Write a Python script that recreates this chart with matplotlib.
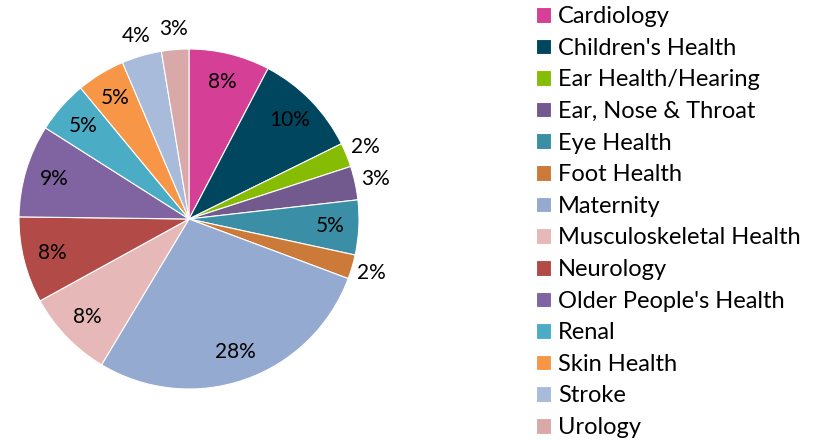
import matplotlib.pyplot as plt
import numpy as np

plt.rcParams['font.family'] = ['Lato', 'DejaVu Sans']

# categorias e fatias (em %)
categorias = ["Cardiology", "Children's Health", "Ear Health/Hearing", "Ear, Nose & Throat",
              "Eye Health", "Foot Health", "Maternity", "Musculoskeletal Health", "Neurology",
              "Older People's Health", "Renal", "Skin Health", "Stroke", "Urology"]
valores = [7.7, 10.0, 2.3, 3.2, 5.2, 2.3, 27.9, 8.4, 8.2, 8.8, 5.0, 4.6, 3.8, 2.6]
rotulos = ["8%", "10%", "2%", "3%", "5%", "2%", "28%", "8%", "8%", "9%", "5%", "5%", "4%", "3%"]
cores = ["#D63F96", "#00465F", "#86BC04", "#735A8E", "#3A8EA5", "#CC7A3A", "#95AAD0",
         "#E6B8B7", "#B24B47", "#8063A1", "#4BACC6", "#F79646", "#A9BBDA", "#D9A9A9"]

W, H = 814, 440
fig = plt.figure(figsize=(W / 100, H / 100), dpi=100)

# pizza: centro (189, 219) px, raio 170 px
cx, cy, r = 189, 219, 170
ax = fig.add_axes([(cx - r) / W, (H - cy - r) / H, 2 * r / W, 2 * r / H])
wedges, _ = ax.pie(valores, colors=cores, startangle=90, counterclock=False,
                   wedgeprops=dict(edgecolor='white', linewidth=0.8))
ax.set_xlim(-1, 1)
ax.set_ylim(-1, 1)

for w, txt, v in zip(wedges, rotulos, valores):
    ang = np.deg2rad((w.theta1 + w.theta2) / 2)
    dist = 0.83 if v >= 4.5 else 1.12
    ax.text(dist * np.cos(ang), dist * np.sin(ang), txt, ha='center', va='center',
            fontsize=15, color='black')

fig.legend(wedges, categorias, loc='upper left', bbox_to_anchor=(536 / W, 1 - 6 / H),
           frameon=False, fontsize=17, handlelength=0.64, handleheight=0.64,
           handletextpad=0.28, labelspacing=0.45, borderpad=0, borderaxespad=0)

fig.savefig("out.png", dpi=100)
